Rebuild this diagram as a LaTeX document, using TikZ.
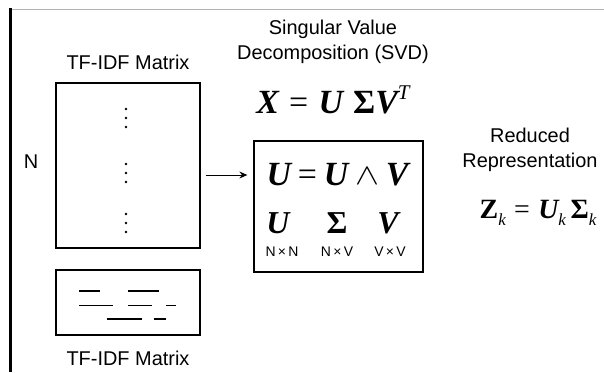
\documentclass[tikz,border=0pt]{standalone}
\usepackage{graphicx}
\usepackage{fontspec}
\setmainfont{Liberation Sans}
\newfontfamily\tms{Liberation Serif}
\usetikzlibrary{arrows.meta}

\newcommand{\bi}[1]{{\bfseries\itshape #1}}
\newcommand{\bu}[1]{{\bfseries #1}}
\newcommand{\gap}{\hspace{0.3em}}
\newcommand{\supT}{\raisebox{0.42em}{\fontsize{21}{21}\selectfont\itshape T}}
\newcommand{\subk}{\raisebox{-0.25em}{\fontsize{17}{17}\selectfont\itshape k}}
\newcommand{\capwedge}{\raisebox{0.05em}{\scalebox{1.45}[1.2]{$\wedge$}}}

\tikzset{
  matbox/.style={draw=black, line width=1.3bp, inner sep=0pt},
  lbl/.style={font=\fontsize{20}{25}\selectfont, align=center, inner sep=0pt},
  dimlbl/.style={font=\fontsize{14}{16}\selectfont, inner sep=0pt},
  eq/.style={font=\tms\fontsize{34}{38}\selectfont, inner sep=0pt},
  bar/.style={line width=1.3bp},
}

\begin{document}
\begin{tikzpicture}[x=1bp, y=-1bp]
\useasboundingbox (0,0) rectangle (604,372);

% frame lines
\draw[black!30, line width=1bp] (10,9) -- (604,9);
\draw[line width=2.6bp] (10.5,8) -- (10.5,372);

% TF-IDF matrix
\node[lbl] (toplbl) at (128,62) {TF-IDF Matrix};
\node[matbox, minimum width=144bp, minimum height=165bp] (tfidf) at (128,165.5) {};
\node[lbl] (nlbl) at (31,162) {N};
\foreach \y in {109,118,127,164,173,182,214,223,232}
  \fill (126,\y) circle (1.3bp);

% sparse rows
\node[matbox, minimum width=144bp, minimum height=65bp] (sparse) at (128,302.5) {};
\draw[bar] (79,291) -- (100,291);
\draw[bar] (128,291) -- (159,291);
\draw[bar] (79,305.5) -- (113,305.5);
\draw[bar] (128,305.5) -- (152,305.5);
\draw[bar] (166,305.5) -- (176,305.5);
\draw[bar] (107,319) -- (142,319);
\draw[bar] (154,319) -- (166,319);
\node[lbl] (botlbl) at (128,358) {TF-IDF Matrix};

% SVD
\node[lbl] (svdlbl) at (333,42) {Singular Value\\Decomposition (SVD)};
\node[eq] (xeq) at (333,100) {\bi{X}\gap=\gap\bi{U}\gap\bu{Σ}\bi{V}\supT};
\node[matbox, minimum width=169bp, minimum height=131bp] (svd) at (338.5,206.5) {};
\node[eq] (ueq) at (337.5,175) {\bi{U}\hspace{0.2em}=\hspace{0.2em}\bi{U}\hspace{0.2em}\capwedge\hspace{0.2em}\bi{V}};
\node[eq, font=\tms\fontsize{32}{36}\selectfont] (ufac) at (278,223) {\bi{U}};
\node[eq, font=\tms\fontsize{32}{36}\selectfont] (sfac) at (337,223) {\bu{Σ}};
\node[eq, font=\tms\fontsize{32}{36}\selectfont] (vfac) at (388,223) {\bi{V}};
\node[dimlbl] (udim) at (282,252) {N\,×\,N};
\node[dimlbl] (sdim) at (337,252) {N\,×\,V};
\node[dimlbl] (vdim) at (390,252) {V\,×\,V};

\draw[-{Stealth[length=8bp,width=7bp]}, line width=1bp, shorten <=5bp, shorten >=6bp]
  (tfidf.east |- ueq) -- (svd.west |- ueq);

% reduced representation
\node[lbl] (redlbl) at (530,150) {Reduced\\Representation};
\node[eq, font=\tms\fontsize{28}{30}\selectfont] (zeq) at (538,213)
  {\bu{Z}\subk\gap=\gap\bi{U}\subk\,\bu{Σ}\subk};

\end{tikzpicture}
\end{document}
